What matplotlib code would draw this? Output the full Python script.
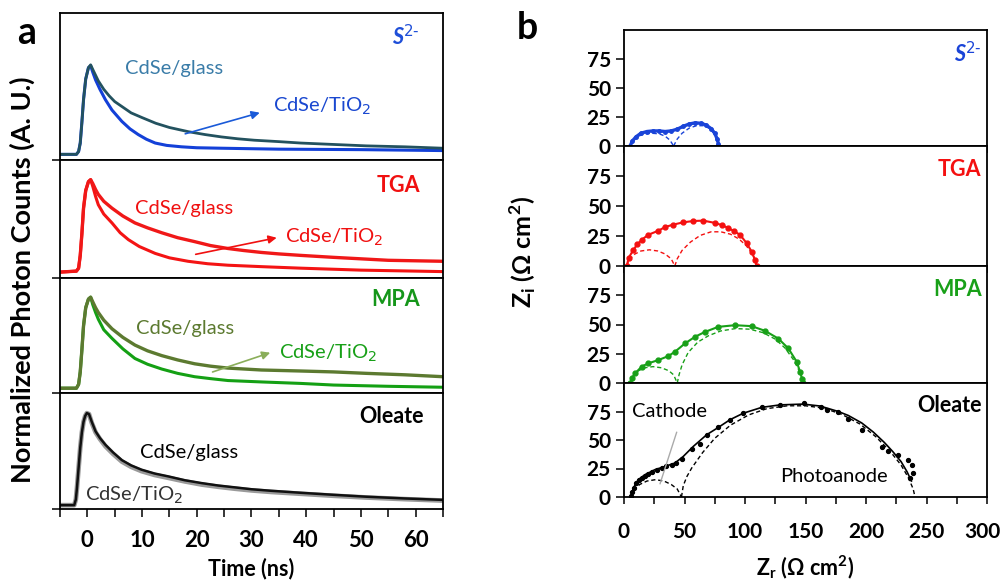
import numpy as np
import matplotlib.pyplot as plt
from matplotlib.transforms import ScaledTranslation

plt.rcParams['font.family'] = ['Lato', 'DejaVu Sans']

# ---- panel a: PL decays (time in ns, normalized counts) ----
rise_t = [-5, -2, -1.6, -1.3, -1, -0.7, -0.3, 0.2, 0.6]

s2_glass_t = rise_t + [1, 1.5, 2, 3, 4, 5, 6.5, 8, 10, 12.5, 15, 18.5, 21.5, 24.5, 27.5, 30.5, 35, 39, 45, 51, 58, 65]
s2_glass_v = [0.06, 0.06, 0.09, 0.18, 0.40, 0.64, 0.86, 0.98, 1.01,
              0.96, 0.90, 0.84, 0.75, 0.68, 0.62, 0.56, 0.50, 0.45, 0.39, 0.345, 0.30, 0.27, 0.245, 0.225,
              0.21, 0.195, 0.18, 0.165, 0.15, 0.14, 0.125]
s2_tio2_t = rise_t + [1, 1.5, 2.3, 3.3, 4.5, 6.3, 7.8, 9.3, 10.8, 12.4, 14.5, 17.2, 20, 24.5, 35, 50, 65]
s2_tio2_v = [0.06, 0.06, 0.09, 0.18, 0.40, 0.64, 0.86, 0.98, 1.0,
             0.93, 0.85, 0.75, 0.64, 0.53, 0.41, 0.33, 0.27, 0.22, 0.18, 0.155, 0.14, 0.13, 0.125, 0.115,
             0.11, 0.10]

tga_glass_t = rise_t + [1, 1.5, 2, 3, 4.5, 6.5, 8.7, 11, 13.6, 16.5, 19.6, 22.5, 25.7, 28.5, 31.8, 35, 39, 45, 55, 65]
tga_glass_v = [0.06, 0.07, 0.10, 0.23, 0.45, 0.71, 0.89, 0.98, 1.0,
               0.96, 0.90, 0.85, 0.78, 0.71, 0.63, 0.56, 0.51, 0.46, 0.41, 0.37, 0.33, 0.30, 0.28, 0.26,
               0.245, 0.23, 0.21, 0.18, 0.17]
tga_tio2_t = rise_t + [1, 1.5, 2, 3, 4.5, 6, 7.5, 9.5, 12.4, 15, 18.4, 22, 25.7, 32, 39, 50, 65]
tga_tio2_v = [0.06, 0.07, 0.10, 0.23, 0.45, 0.71, 0.89, 0.98, 1.0,
              0.93, 0.83, 0.745, 0.65, 0.56, 0.46, 0.39, 0.32, 0.25, 0.205, 0.17, 0.145, 0.13, 0.115,
              0.10, 0.08, 0.065]

mpa_glass_t = rise_t + [1, 1.5, 2, 3, 4.5, 6.5, 8.7, 11, 13.6, 16.5, 19.6, 22.5, 25.7, 31.8, 38.7, 45, 51, 58, 65]
mpa_glass_v = [0.05, 0.05, 0.09, 0.22, 0.45, 0.70, 0.89, 0.98, 1.0,
               0.95, 0.89, 0.84, 0.76, 0.67, 0.58, 0.50, 0.44, 0.39, 0.345, 0.305, 0.28, 0.26, 0.24,
               0.23, 0.22, 0.205, 0.19, 0.17]
mpa_tio2_t = rise_t + [1, 1.5, 2, 3, 4.5, 6.5, 8.7, 11, 13.6, 16.5, 19.6, 22.5, 25.7, 32, 39, 45, 55, 65]
mpa_tio2_v = [0.05, 0.05, 0.09, 0.22, 0.45, 0.70, 0.89, 0.98, 1.0,
              0.92, 0.84, 0.77, 0.66, 0.57, 0.46, 0.36, 0.30, 0.25, 0.205, 0.17, 0.15, 0.13, 0.115,
              0.10, 0.083, 0.07, 0.06]

ole_t = [-5, -2.4, -2.1, -1.9, -1.6, -1.3, -1, -0.7, -0.4, -0.1, 0.3, 0.8, 1.5, 2.3, 3.3, 4.7, 6.3, 8,
         9.9, 12.3, 14.8, 17.8, 20.9, 23.9, 26.9, 30, 33.6, 39.3, 45, 51, 58, 65]
ole_glass_v = [0.04, 0.04, 0.10, 0.22, 0.43, 0.64, 0.80, 0.91, 0.97, 1.0, 0.99, 0.91, 0.81, 0.74, 0.67,
               0.59, 0.51, 0.455, 0.41, 0.37, 0.34, 0.30, 0.27, 0.245, 0.226, 0.206, 0.19, 0.168, 0.148,
               0.128, 0.11, 0.095]
ole_tio2_v = [0.04, 0.04, 0.10, 0.22, 0.43, 0.64, 0.80, 0.91, 0.97, 1.0, 0.99, 0.90, 0.80, 0.73, 0.655,
              0.575, 0.495, 0.44, 0.395, 0.355, 0.325, 0.288, 0.255, 0.232, 0.212, 0.194, 0.178, 0.158,
              0.138, 0.12, 0.103, 0.088]

# ---- panel b: Nyquist plots (ohm cm2) ----
s2_zr = [5, 7, 10, 14, 19, 24, 29, 34, 39, 44, 49, 54, 59, 64, 68, 72, 75, 77, 78, 78]
s2_zi = [0, 4.5, 8, 11, 12.5, 13, 13, 12.5, 13, 14.5, 17, 19, 20, 19.5, 18, 15, 11, 6, 2, 0]
s2_arc1_zr = [5, 8, 12, 17, 23, 29, 34, 38, 41]
s2_arc1_zi = [0, 5, 8.5, 10.5, 11, 10.5, 8.5, 5, 0]
s2_arc2_zr = [41, 44, 48, 54, 60, 66, 71, 75, 77.5, 78]
s2_arc2_zi = [0, 6, 11, 15.5, 17.5, 17.5, 15, 10, 4, 0]

tga_zr = [2.2, 4, 7.7, 11, 14.6, 20, 28.4, 34, 40.8, 49, 57.3, 65.6, 75.2, 81, 86.2, 91, 95.9, 101.4, 105.5, 108.3, 109.7]
tga_zi = [0, 7, 13.4, 18, 21.8, 26, 29.4, 32.5, 34.5, 36.4, 37.5, 37.8, 35.9, 34, 31.7, 29, 26, 19, 12, 5, 0]
tga_arc1_zr = [2, 5, 9, 14, 21, 28, 34, 39, 42]
tga_arc1_zi = [0, 6, 10, 12.5, 13.5, 12.5, 10, 6, 0]
tga_arc2_zr = [42, 44, 48, 55, 63, 72, 80, 88, 95, 101, 106, 109, 110]
tga_arc2_zi = [0, 6, 13, 20, 25.5, 28.5, 28.5, 26.5, 22.5, 17, 10, 4, 0]

mpa_zr = [5, 7, 9.1, 14.6, 20, 28.4, 36.6, 42.1, 50.4, 58.7, 67, 77.9, 91.7, 105.5, 116.5, 127.5, 135.8, 142.7, 145.5, 147.4, 148]
mpa_zi = [0, 4.5, 8.2, 14, 16.8, 19.6, 23, 26.7, 33.8, 39.5, 43.7, 48, 49.4, 48.6, 44.6, 38, 29.6, 18.2, 9.7, 3, 0]
mpa_arc1_zr = [5, 8, 12, 17, 24, 31, 37, 41, 44]
mpa_arc1_zi = [0, 7, 10.5, 13, 14, 13, 10.5, 7, 0]
mpa_arc2_zr = [44, 45.5, 48, 53, 61, 70, 80, 92, 104, 115, 125, 133, 140, 145, 147.5, 148]
mpa_arc2_zi = [0, 7, 15.5, 26, 35, 40.5, 44.5, 46.5, 46, 43, 37.5, 30, 20, 10, 3, 0]

ole_fit_zr = [5.8, 7.7, 11.8, 17.4, 25.6, 33.9, 42.1, 49, 57.3, 68.3, 77.9, 87.6, 98.6, 113.8, 128.9, 148, 162, 177.1, 185.4, 196.4, 206, 215, 222, 229, 234, 237.5]
ole_fit_zi = [0, 7.9, 15.2, 19.6, 24, 26.8, 29.8, 35.6, 44.4, 54.6, 61, 67.8, 73.5, 78.6, 80.8, 81.5, 79.8, 75, 71.5, 65, 57, 48, 40, 31, 22, 14]
ole_dot_zr = [6, 7, 8.5, 10, 12, 14.6, 17, 20, 22.9, 27, 31.1, 35, 39.4, 43, 48, 55.9, 62.8, 68.3, 77.9, 87.6, 98.6, 113.8, 128.9, 148.5, 162.5, 167.5, 177, 185.4, 196.5, 213, 218.5, 226.5, 235, 237.8, 239.2, 236.4]
ole_dot_zi = [1, 4, 8, 12, 14.5, 16.7, 18.5, 20.5, 21.9, 23.5, 25.4, 27, 28.3, 30, 33.5, 42, 46.5, 54.6, 61, 67.8, 74, 78.6, 80.5, 82.5, 79, 76.6, 74.5, 68.7, 59, 44, 40.5, 37, 32.5, 28.5, 21, 16.5]
ole_arc1_zr = [6, 9, 13, 19, 26, 33, 39, 44, 47.5]
ole_arc1_zi = [0, 7, 11, 14, 15.2, 14, 11, 7, 0]
ole_arc2_zr = [47.5, 49, 52, 56, 65, 75, 88, 103, 118, 135, 150, 165, 180, 195, 208, 220, 229, 235, 239, 240.5]
ole_arc2_zi = [0, 10, 18, 25.5, 39, 51.5, 63, 72, 77.5, 80, 80, 78, 72.5, 64, 53, 40, 28, 17, 7, 0]

W, H = 1003, 584
fig = plt.figure(figsize=(W / 100, H / 100), dpi=100)


def px_axes(left, top, right, bottom):
    return fig.add_axes([left / W, 1 - bottom / H, (right - left) / W, (bottom - top) / H])


def style(ax, lsize):
    for s in ax.spines.values():
        s.set_linewidth(1.3)
    ax.tick_params(direction='out', width=1.1, length=6, labelsize=lsize)


# ---- panel a ----
a_rows = [(13, 160), (160, 278), (278, 393), (393, 509)]
a_ylim = [1.56, 1.2, 1.2, 1.21]
a_data = [
    (s2_tio2_t, s2_tio2_v, '#1340d8', 2.2, s2_glass_t, s2_glass_v, '#23525f', 2.0),
    (tga_tio2_t, tga_tio2_v, '#f41414', 2.2, tga_glass_t, tga_glass_v, '#f01818', 2.4),
    (mpa_tio2_t, mpa_tio2_v, '#14a014', 2.2, mpa_glass_t, mpa_glass_v, '#5c7a30', 2.4),
    (ole_t, ole_tio2_v, '#9a9a9a', 3.4, ole_t, ole_glass_v, '#111111', 1.8),
]
a_axes = []
for i, ((top, bot), yl, d) in enumerate(zip(a_rows, a_ylim, a_data)):
    ax = px_axes(60, top, 443, bot)
    style(ax, 16)
    ax.plot(d[0], d[1], color=d[2], lw=d[3])
    ax.plot(d[4], d[5], color=d[6], lw=d[7])
    ax.set_xlim(-5, 65)
    ax.set_ylim(0, yl)
    ax.set_yticks([0])
    ax.set_yticklabels([])
    if i < 3:
        ax.set_xticks([])
    a_axes.append(ax)

bot_ax = a_axes[3]
xt = np.arange(-5, 66, 5)
bot_ax.set_xticks(xt)
bot_ax.set_xticklabels(['' if (t % 10 or t < 0) else str(t) for t in xt], fontweight='bold')
bot_ax.tick_params(axis='x', pad=9)
bot_ax.set_xlabel('Time (ns)', fontsize=15.5, fontweight='bold', labelpad=5)

tfs = 14.5
ax = a_axes[0]
ax.text(0.94, 0.84, 'S$^{2\\text{-}}$', transform=ax.transAxes, ha='right', va='center',
        color='#1f4fd8', fontsize=15.5, fontweight='bold', fontstyle='italic')
ax.text(6.9, 0.97, 'CdSe/glass', color='#3a7ca8', fontsize=tfs, va='center')
ax.text(34, 0.57, 'CdSe/TiO$_2$', color='#1a48d0', fontsize=tfs, va='center')
ax.annotate('', xy=(32, 0.51), xytext=(17.4, 0.27),
            arrowprops=dict(arrowstyle='-|>', color='#1a5ad8', lw=1.2, mutation_scale=12))

ax = a_axes[1]
ax.text(0.94, 0.78, 'TGA', transform=ax.transAxes, ha='right', va='center',
        color='#f01010', fontsize=15.5, fontweight='bold')
ax.text(8.7, 0.71, 'CdSe/glass', color='#f01010', fontsize=tfs, va='center')
ax.text(36.2, 0.415, 'CdSe/TiO$_2$', color='#f01010', fontsize=tfs, va='center')
ax.annotate('', xy=(35.1, 0.415), xytext=(19.3, 0.235),
            arrowprops=dict(arrowstyle='-|>', color='#f01010', lw=1.2, mutation_scale=12))

ax = a_axes[2]
ax.text(0.94, 0.81, 'MPA', transform=ax.transAxes, ha='right', va='center',
        color='#15961a', fontsize=15.5, fontweight='bold')
ax.text(8.9, 0.67, 'CdSe/glass', color='#5c7a30', fontsize=tfs, va='center')
ax.text(35, 0.41, 'CdSe/TiO$_2$', color='#18a018', fontsize=tfs, va='center')
ax.annotate('', xy=(33.9, 0.43), xytext=(22.4, 0.21),
            arrowprops=dict(arrowstyle='-|>', color='#8aae5a', lw=1.2, mutation_scale=12))

ax = a_axes[3]
ax.text(0.95, 0.8, 'Oleate', transform=ax.transAxes, ha='right', va='center',
        color='black', fontsize=15.5, fontweight='bold')
ax.text(9.6, 0.59, 'CdSe/glass', color='black', fontsize=tfs, va='center')
ax.text(-0.4, 0.146, 'CdSe/TiO$_2$', color='#333333', fontsize=tfs, va='center')

fig.text(22 / W, 1 - 280 / H, 'Normalized Photon Counts (A. U.)', rotation=90,
         ha='center', va='center', fontsize=19.5, fontweight='bold')
fig.text(27 / W, 1 - 33 / H, 'a', ha='center', va='center', fontsize=27, fontweight='bold')

# ---- panel b ----
b_rows = [(30, 146), (146, 266), (266, 383), (383, 497)]
b_sets = [
    ('#1a44d8', s2_zr, s2_zi, [(s2_arc1_zr, s2_arc1_zi), (s2_arc2_zr, s2_arc2_zi)], 'S$^{2\\text{-}}$'),
    ('#f41010', tga_zr, tga_zi, [(tga_arc1_zr, tga_arc1_zi), (tga_arc2_zr, tga_arc2_zi)], 'TGA'),
    ('#18a018', mpa_zr, mpa_zi, [(mpa_arc1_zr, mpa_arc1_zi), (mpa_arc2_zr, mpa_arc2_zi)], 'MPA'),
    ('black', ole_fit_zr, ole_fit_zi, [(ole_arc1_zr, ole_arc1_zi), (ole_arc2_zr, ole_arc2_zi)], 'Oleate'),
]
b_axes = []
for i, ((top, bot), (c, zr, zi, arcs, name)) in enumerate(zip(b_rows, b_sets)):
    ax = px_axes(624, top, 987, bot)
    style(ax, 15)
    for azr, azi in arcs:
        ax.plot(azr, azi, color=c, lw=1.0, ls=(0, (3, 2)))
    if i == 0:
        ax.plot(zr, zi, color=c, lw=2.4, marker='o', ms=2.5)
    elif i < 3:
        ax.plot(zr, zi, color=c, lw=1.5, marker='o', ms=3.5)
    else:
        ax.plot(zr, zi, color=c, lw=1.2)
        ax.plot(ole_dot_zr, ole_dot_zi, 'o', color='black', ms=2.8)
    ax.set_xlim(0, 300)
    ax.set_ylim(0, 100)
    ax.set_yticks([0, 25, 50, 75])
    ax.set_yticklabels(['0', '25', '50', '75'], fontweight='bold')
    ax.set_xticks(np.arange(0, 301, 25))
    if i < 3:
        ax.set_xticklabels([])
    else:
        ax.set_xticklabels([str(v) if v % 50 == 0 else '' for v in range(0, 301, 25)],
                           fontweight='bold')
    ax.tick_params(axis='x', length=5, pad=13)
    ax.text(0.985, 0.8, name, transform=ax.transAxes, ha='right', va='center', color=c,
            fontsize=15.5, fontweight='bold', fontstyle='italic' if i == 0 else 'normal')
    b_axes.append(ax)

ax = b_axes[3]
# nudge the last tick label so it stays inside the figure
last = ax.get_xticklabels()[-1]
last.set_transform(last.get_transform() + ScaledTranslation(-5 / 100, 0, fig.dpi_scale_trans))
ax.text(38, 75, 'Cathode', fontsize=14.5, ha='center', va='center')
ax.plot([43.5, 29.8], [56.7, 11.7], color='#aaaaaa', lw=1.0)
ax.text(173.6, 18, 'Photoanode', fontsize=14.5, ha='center', va='center')
ax.set_xlabel('Z$_\\mathregular{r}$ ($\\mathregular{\\Omega}$ cm$^\\mathregular{2}$)',
              fontsize=15.5, fontweight='bold', labelpad=8)

fig.text(523 / W, 1 - 252 / H, 'Z$_\\mathregular{i}$ ($\\mathregular{\\Omega}$ cm$^\\mathregular{2}$)',
         rotation=90, ha='center', va='center', fontsize=18, fontweight='bold')
fig.text(527 / W, 1 - 28 / H, 'b', ha='center', va='center', fontsize=27, fontweight='bold')

fig.savefig('out.png', dpi=100)
